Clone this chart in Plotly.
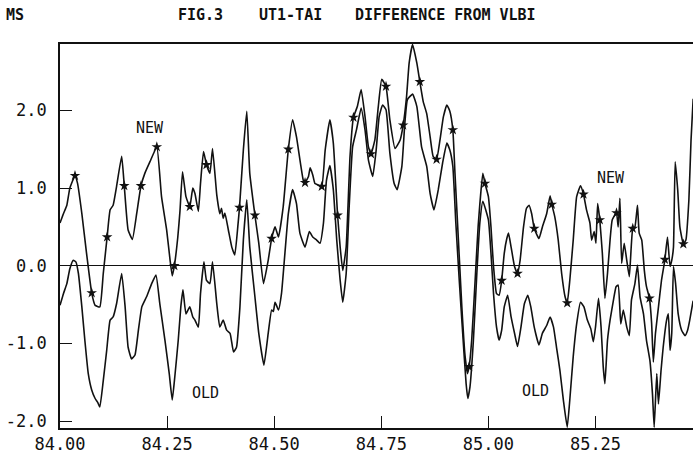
import plotly.graph_objects as go

# ---- data ----
new_x = [84.000, 84.008, 84.016, 84.023, 84.035, 84.041, 84.051, 84.062, 84.074, 84.082,
         84.093, 84.101, 84.110, 84.117, 84.124, 84.132, 84.144, 84.150, 84.159, 84.169,
         84.179, 84.189, 84.198, 84.210, 84.226, 84.237, 84.249, 84.257, 84.262, 84.267,
         84.275, 84.280, 84.286, 84.294, 84.303, 84.310, 84.315, 84.323, 84.328, 84.335,
         84.342, 84.350, 84.356, 84.366, 84.373, 84.377, 84.381, 84.385, 84.393, 84.401,
         84.408, 84.415, 84.419, 84.428, 84.436, 84.443, 84.455, 84.464, 84.475, 84.486,
         84.494, 84.502, 84.510, 84.521, 84.533, 84.543, 84.552, 84.568, 84.572, 84.580,
         84.584, 84.590, 84.595, 84.603, 84.611, 84.619, 84.630, 84.638, 84.648, 84.654,
         84.660, 84.668, 84.677, 84.685, 84.694, 84.703, 84.712, 84.720, 84.726, 84.735,
         84.743, 84.751, 84.761, 84.770, 84.782, 84.794, 84.801, 84.809, 84.815, 84.823,
         84.833, 84.840, 84.848, 84.856, 84.864, 84.871, 84.879, 84.887, 84.895, 84.903,
         84.910, 84.917, 84.922, 84.930, 84.938, 84.945, 84.951, 84.955, 84.961, 84.969,
         84.976, 84.987, 84.992, 85.000, 85.006, 85.012, 85.019, 85.025, 85.031, 85.037,
         85.043, 85.047, 85.053, 85.061, 85.068, 85.074, 85.082, 85.089, 85.095, 85.101,
         85.107, 85.118, 85.126, 85.136, 85.144, 85.148, 85.155, 85.163, 85.171, 85.179,
         85.184, 85.190, 85.198, 85.206, 85.215, 85.222, 85.229, 85.237, 85.241, 85.247,
         85.251, 85.255, 85.260, 85.266, 85.272, 85.278, 85.284, 85.289, 85.299, 85.303,
         85.307, 85.311, 85.317, 85.323, 85.329, 85.337, 85.342, 85.348, 85.352, 85.358,
         85.364, 85.369, 85.376, 85.381, 85.385, 85.390, 85.397, 85.404, 85.412, 85.418,
         85.424, 85.428, 85.432, 85.436, 85.442, 85.447, 85.455, 85.461, 85.468, 85.473,
         85.478]
new_y = [0.55, 0.67, 0.78, 1.00, 1.16, 1.06, 0.67, 0.16, -0.35, -0.51,
         -0.53, -0.10, 0.37, 0.72, 0.78, 1.02, 1.41, 1.03, 0.46, 0.34,
         0.67, 1.03, 1.19, 1.34, 1.53, 0.89, 0.46, 0.07, -0.13, 0.00,
         0.37, 0.70, 1.21, 0.89, 0.76, 1.00, 0.93, 0.70, 1.06, 1.47,
         1.30, 1.19, 1.51, 0.91, 0.67, 0.74, 0.61, 0.68, 0.46, 0.24,
         0.14, 0.50, 0.75, 1.49, 1.99, 1.19, 0.65, 0.29, -0.23, 0.07,
         0.35, 0.50, 0.37, 0.76, 1.50, 1.88, 1.66, 1.10, 1.07, 1.15,
         1.26, 1.17, 1.06, 1.04, 1.02, 1.49, 1.88, 1.58, 0.65, 0.24,
         -0.06, 0.24, 1.41, 1.91, 2.05, 2.27, 1.92, 1.53, 1.44, 1.62,
         2.05, 2.40, 2.31, 1.88, 1.51, 1.62, 1.81, 2.18, 2.61, 2.85,
         2.61, 2.37, 2.11, 1.96, 1.66, 1.41, 1.37, 1.62, 1.92, 2.07,
         1.99, 1.75, 1.19, 0.33, -0.53, -1.13, -1.39, -1.30, -0.96, -0.19,
         0.50, 1.19, 1.06, 0.89, 0.50, -0.01, -0.36, -0.38, -0.19, 0.16,
         0.35, 0.42, 0.24, -0.01, -0.10, 0.07, 0.50, 0.74, 0.78, 0.67,
         0.48, 0.35, 0.50, 0.67, 0.90, 0.79, 0.63, 0.33, -0.10, -0.40,
         -0.48, -0.19, 0.33, 0.89, 1.03, 0.92, 0.72, 0.55, 0.33, 0.44,
         0.29, 0.80, 0.59, 0.16, -0.42, -0.10, 0.33, 0.59, 0.68, 0.50,
         0.87, 0.03, 0.29, 0.07, -0.14, 0.48, 0.50, 0.78, 0.42, 0.33,
         -0.06, -0.27, -0.42, -0.74, -1.24, -0.87, -0.53, -0.19, 0.08, 0.37,
         -0.01, 0.07, 0.24, 1.34, 0.97, 0.50, 0.28, 0.33, 0.85, 1.62,
         2.15]

new_star_x = [84.035, 84.074, 84.110, 84.150, 84.189, 84.226, 84.267, 84.303, 84.342, 84.419,
              84.455, 84.494, 84.533, 84.572, 84.611, 84.648, 84.685, 84.726, 84.761, 84.801,
              84.840, 84.879, 84.917, 84.955, 84.992, 85.031, 85.068, 85.107, 85.148, 85.184,
              85.222, 85.260, 85.299, 85.337, 85.376, 85.412, 85.455]
new_star_y = [1.16, -0.35, 0.37, 1.03, 1.03, 1.53, 0.00, 0.76, 1.30, 0.75,
              0.65, 0.35, 1.50, 1.07, 1.02, 0.65, 1.91, 1.44, 2.31, 1.81,
              2.37, 1.37, 1.75, -1.30, 1.06, -0.19, -0.10, 0.48, 0.79, -0.48,
              0.92, 0.59, 0.68, 0.48, -0.42, 0.08, 0.28]

old_x = [84.000, 84.008, 84.016, 84.023, 84.031, 84.037, 84.043, 84.051, 84.058, 84.066,
         84.074, 84.082, 84.088, 84.093, 84.101, 84.109, 84.117, 84.124, 84.132, 84.144,
         84.152, 84.159, 84.167, 84.175, 84.183, 84.191, 84.202, 84.214, 84.224, 84.233,
         84.245, 84.255, 84.262, 84.268, 84.276, 84.282, 84.287, 84.294, 84.303, 84.310,
         84.315, 84.323, 84.328, 84.336, 84.342, 84.350, 84.356, 84.366, 84.373, 84.381,
         84.389, 84.397, 84.405, 84.412, 84.420, 84.428, 84.436, 84.443, 84.455, 84.464,
         84.476, 84.486, 84.494, 84.498, 84.502, 84.510, 84.517, 84.525, 84.533, 84.543,
         84.552, 84.560, 84.572, 84.582, 84.590, 84.599, 84.607, 84.615, 84.622, 84.630,
         84.638, 84.646, 84.654, 84.660, 84.668, 84.675, 84.683, 84.692, 84.703, 84.712,
         84.720, 84.730, 84.738, 84.745, 84.753, 84.761, 84.770, 84.780, 84.787, 84.798,
         84.805, 84.811, 84.823, 84.833, 84.844, 84.856, 84.864, 84.873, 84.883, 84.893,
         84.903, 84.910, 84.917, 84.924, 84.932, 84.940, 84.948, 84.952, 84.957, 84.965,
         84.973, 84.980, 84.987, 85.000, 85.006, 85.012, 85.019, 85.025, 85.031, 85.037,
         85.045, 85.053, 85.061, 85.068, 85.076, 85.084, 85.092, 85.099, 85.107, 85.118,
         85.126, 85.136, 85.144, 85.152, 85.159, 85.167, 85.175, 85.184, 85.190, 85.198,
         85.206, 85.215, 85.223, 85.231, 85.239, 85.245, 85.250, 85.257, 85.263, 85.268,
         85.272, 85.278, 85.284, 85.292, 85.298, 85.303, 85.309, 85.315, 85.323, 85.329,
         85.334, 85.342, 85.348, 85.354, 85.362, 85.369, 85.377, 85.383, 85.387, 85.393,
         85.397, 85.403, 85.408, 85.416, 85.420, 85.424, 85.428, 85.432, 85.437, 85.443,
         85.451, 85.459, 85.465, 85.470, 85.478]
old_y = [-0.51, -0.36, -0.23, -0.04, 0.07, 0.05, -0.10, -0.53, -0.96, -1.39,
         -1.60, -1.71, -1.76, -1.82, -1.48, -1.09, -0.70, -0.66, -0.49, -0.10,
         -0.53, -1.05, -1.20, -1.15, -0.83, -0.53, -0.40, -0.23, -0.12, -0.49,
         -0.96, -1.39, -1.73, -1.43, -0.96, -0.53, -0.31, -0.62, -0.53, -0.66,
         -0.70, -0.79, -0.36, 0.05, -0.19, -0.23, 0.05, -0.49, -0.79, -0.70,
         -0.83, -0.87, -1.11, -1.05, -0.53, 0.33, 0.85, 0.24, -0.40, -0.87,
         -1.28, -0.87, -0.57, -0.59, -0.47, -0.57, -0.36, 0.16, 0.67, 0.98,
         0.80, 0.42, 0.24, 0.44, 0.37, 0.33, 0.29, 0.55, 1.10, 1.29,
         0.98, 0.33, -0.19, -0.47, -0.10, 0.76, 1.53, 1.75, 2.03, 1.75,
         1.36, 1.15, 1.49, 1.92, 2.07, 2.01, 1.45, 1.06, 0.98, 1.28,
         1.84, 2.14, 2.21, 2.05, 1.53, 1.28, 0.93, 0.72, 0.98, 1.32,
         1.58, 1.49, 1.28, 0.55, -0.19, -0.87, -1.52, -1.71, -1.56, -0.96,
         -0.10, 0.55, 0.83, 0.59, 0.16, -0.36, -0.79, -0.96, -0.83, -0.53,
         -0.38, -0.66, -0.87, -1.04, -0.79, -0.49, -0.38, -0.53, -0.79, -1.02,
         -0.87, -0.77, -0.66, -0.79, -1.05, -1.35, -1.73, -2.08, -1.73, -1.17,
         -0.75, -0.47, -0.53, -0.70, -0.81, -0.98, -0.79, -0.42, -0.79, -1.30,
         -1.52, -0.96, -0.70, -0.44, -0.27, -0.25, -0.75, -0.57, -0.79, -0.90,
         -0.44, -0.23, 0.01, -0.40, -0.62, -0.96, -1.22, -1.65, -2.08, -1.39,
         -1.78, -1.35, -1.05, -0.70, -0.62, -1.09, -0.87, -0.01, -0.23, -0.62,
         -0.83, -0.90, -0.83, -0.70, -0.45]

x_tickvals = [84.00, 84.25, 84.50, 84.75, 85.00, 85.25]
x_ticktext = ["84.00", "84.25", "84.50", "84.75", "85.00", "85.25"]
y_tickvals = [-2.0, -1.0, 0.0, 1.0, 2.0]
y_ticktext = ["-2.0", "-1.0", "0.0", "1.0", "2.0"]

curve_labels = [("NEW", 84.209, 1.77), ("OLD", 84.340, -1.64),
                ("OLD", 85.110, -1.61), ("NEW", 85.287, 1.13)]

FONT = "DejaVu Sans Mono"
INK = "#111111"

fig = go.Figure()
fig.add_trace(go.Scatter(x=new_x, y=new_y, mode="lines",
                         line=dict(color=INK, width=1.6, shape="spline", smoothing=0.4),
                         hoverinfo="skip"))
fig.add_trace(go.Scatter(x=old_x, y=old_y, mode="lines",
                         line=dict(color=INK, width=1.6, shape="spline", smoothing=0.4),
                         hoverinfo="skip"))
fig.add_trace(go.Scatter(x=new_star_x, y=new_star_y, mode="markers",
                         marker=dict(symbol="star", size=8, color=INK,
                                     line=dict(width=0)), hoverinfo="skip"))

for txt, lx, ly in curve_labels:
    fig.add_annotation(x=lx, y=ly, xref="x", yref="y", text=txt, showarrow=False,
                       font=dict(family=FONT, size=15, color=INK))

# header texts (paper coords)
fig.add_annotation(x=-0.071, y=1.075, xref="paper", yref="paper", text="<b>MS</b>",
                   showarrow=False, xanchor="center", yanchor="middle",
                   font=dict(family=FONT, size=15, color=INK))
for txt, px in [("FIG.3", 0.1826), ("UT1-TAI", 0.3112), ("DIFFERENCE FROM VLBI", 0.4629)]:
    fig.add_annotation(x=px, y=1.075, xref="paper", yref="paper", text="<b>" + txt + "</b>",
                       showarrow=False, xanchor="left", yanchor="middle",
                       font=dict(family=FONT, size=15, color=INK))

fig.update_layout(
    width=693, height=453,
    margin=dict(l=60, r=0, t=44, b=25),
    paper_bgcolor="white", plot_bgcolor="white",
    showlegend=False,
    xaxis=dict(range=[84.0, 85.4776], tickvals=x_tickvals, ticktext=x_ticktext,
               ticks="inside", ticklen=12, tickwidth=1.2, tickcolor=INK,
               showline=True, linecolor=INK, linewidth=1.8, mirror=True,
               showgrid=False, zeroline=False,
               tickfont=dict(family=FONT, size=17, color=INK)),
    yaxis=dict(range=[-2.09, 2.856], tickvals=y_tickvals, ticktext=y_ticktext,
               ticks="inside", ticklen=12, tickwidth=1.2, tickcolor=INK,
               showline=True, linecolor=INK, linewidth=1.8, mirror=False,
               showgrid=False, zeroline=True, zerolinecolor=INK, zerolinewidth=1.2,
               ticklabelstandoff=8,
               tickfont=dict(family=FONT, size=17, color=INK)),
)

fig.write_html("out.html")
